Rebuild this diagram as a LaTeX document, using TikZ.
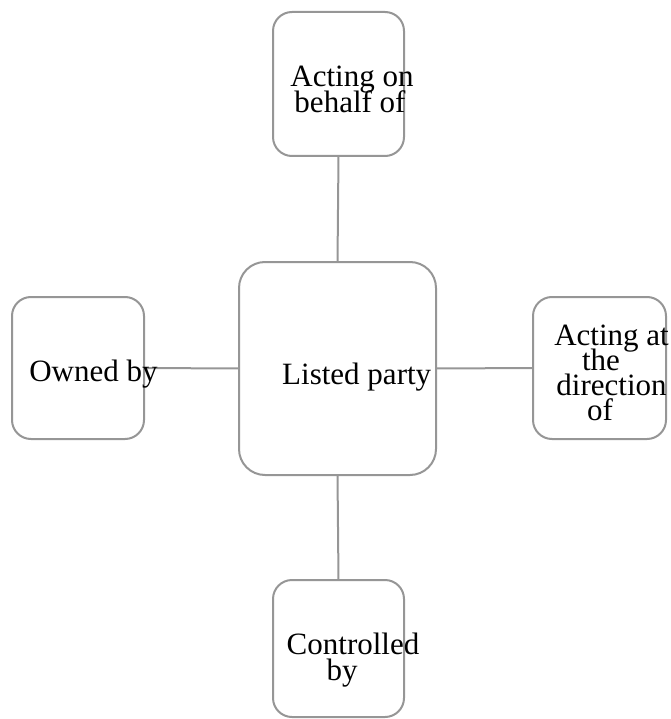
\documentclass[tikz,border=0pt]{standalone}
\usepackage{fontspec}
\setmainfont{Liberation Serif}
\definecolor{boxgray}{RGB}{150,150,150}
\begin{document}
\begin{tikzpicture}[x=1pt,y=-1pt,
  box/.style={draw=boxgray, line width=2pt, rounded corners=19pt, fill=white, inner sep=0pt, outer sep=0pt},
  link/.style={draw=boxgray, line width=2pt},
  lbl/.style={font=\fontsize{31}{25.5}\selectfont, anchor=base, inner sep=0pt, text=black}]
\useasboundingbox (0,0) rectangle (670,719);
% boxes
\node[box, minimum width=131pt, minimum height=144pt] (top) at (338.5,84) {};
\node[box, rounded corners=26pt, minimum width=197pt, minimum height=213pt] (mid) at (337.5,368.5) {};
\node[box, minimum width=132pt, minimum height=142pt] (left) at (78,368) {};
\node[box, minimum width=133pt, minimum height=142pt] (right) at (599.5,368) {};
\node[box, minimum width=131pt, minimum height=137pt] (bot) at (338.5,648.5) {};
% connectors
\draw[link] (top.south) -- (mid.north);
\draw[link] (mid.west) -- (left.east);
\draw[link] (mid.east) -- (right.west);
\draw[link] (mid.south) -- (bot.north);
% labels
\node[lbl] (t1) at (352,87) {Acting on};
\node[lbl] (t2) at (350,113) {behalf of};
\node[lbl] (m1) at (356.7,384.5) {Listed party};
\node[lbl] (l1) at (93.5,381.5) {Owned by};
\node[lbl] (r1) at (611.5,345) {Acting at};
\node[lbl] (r2) at (601,370) {the};
\node[lbl] (r3) at (611.5,395) {direction};
\node[lbl] (r4) at (600,420) {of};
\node[lbl] (b1) at (353,654) {Controlled};
\node[lbl] (b2) at (342,680) {by};
\end{tikzpicture}
\end{document}
